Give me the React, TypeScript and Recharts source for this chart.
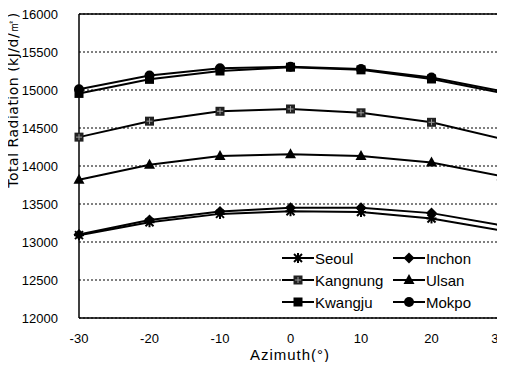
import { LineChart, Line, XAxis, YAxis, CartesianGrid, ReferenceLine, Legend } from 'recharts';

// azimuth angle (deg) on the x axis
const azimuth = [-30, -20, -10, 0, 10, 20, 30];

// total radiation, kJ/d/m2
const seoul = [13090, 13260, 13370, 13405, 13395, 13310, 13150];
const inchon = [13100, 13290, 13400, 13450, 13450, 13380, 13220];
const kangnung = [14380, 14590, 14720, 14750, 14700, 14575, 14355];
const ulsan = [13820, 14015, 14130, 14155, 14130, 14045, 13865];
const kwangju = [14955, 15140, 15250, 15300, 15265, 15145, 14960];
const mokpo = [15010, 15190, 15285, 15305, 15275, 15165, 14985];

const yTicks = [12000, 12500, 13000, 13500, 14000, 14500, 15000, 15500, 16000];

const series = [
  { key: 'seoul', name: 'Seoul', shape: 'star', values: seoul },
  { key: 'inchon', name: 'Inchon', shape: 'diamond', values: inchon },
  { key: 'kangnung', name: 'Kangnung', shape: 'hatch', values: kangnung },
  { key: 'ulsan', name: 'Ulsan', shape: 'triangle', values: ulsan },
  { key: 'kwangju', name: 'Kwangju', shape: 'square', values: kwangju },
  { key: 'mokpo', name: 'Mokpo', shape: 'circle', values: mokpo },
];

const data = azimuth.map((a, i) => {
  const row: any = { azimuth: a };
  series.forEach(s => { row[s.key] = s.values[i]; });
  return row;
});

const FONT = '"Liberation Sans", Arial, sans-serif';

function Marker({ shape, cx, cy }: { shape: string; cx: number; cy: number }) {
  if (cx == null || cy == null) return null;
  switch (shape) {
    case 'star':
      return (
        <g stroke="#000" strokeWidth={2}>
          <line x1={cx - 5} y1={cy} x2={cx + 5} y2={cy} />
          <line x1={cx} y1={cy - 5} x2={cx} y2={cy + 5} />
          <line x1={cx - 4} y1={cy - 4} x2={cx + 4} y2={cy + 4} />
          <line x1={cx - 4} y1={cy + 4} x2={cx + 4} y2={cy - 4} />
        </g>
      );
    case 'diamond':
      return <polygon points={`${cx},${cy - 5.5} ${cx + 5.5},${cy} ${cx},${cy + 5.5} ${cx - 5.5},${cy}`} fill="#000" />;
    case 'hatch':
      return (
        <g>
          <rect x={cx - 4.5} y={cy - 4.5} width={9} height={9} fill="#222" />
          <line x1={cx - 3} y1={cy} x2={cx + 3} y2={cy} stroke="#999" strokeWidth={1} />
          <line x1={cx} y1={cy - 3} x2={cx} y2={cy + 3} stroke="#999" strokeWidth={1} />
        </g>
      );
    case 'triangle':
      return <polygon points={`${cx},${cy - 6} ${cx + 5.5},${cy + 4} ${cx - 5.5},${cy + 4}`} fill="#000" />;
    case 'square':
      return <rect x={cx - 4.5} y={cy - 4.5} width={9} height={9} fill="#000" />;
    default:
      return <circle cx={cx} cy={cy} r={5} fill="#000" />;
  }
}

function LegendBox() {
  return (
    <div style={{ background: '#fff', width: 218, height: 70, display: 'grid', gridTemplateColumns: '111px 107px', gridAutoRows: '22px', paddingTop: 1, fontFamily: FONT, fontSize: 15, color: '#000', textAlign: 'left' }}>
      {series.map(s => (
        <div key={s.key} style={{ display: 'flex', alignItems: 'center', whiteSpace: 'nowrap' }}>
          <svg width={32} height={14} style={{ flex: 'none' }}>
            <line x1={0} y1={7} x2={32} y2={7} stroke="#000" strokeWidth={2} />
            <Marker shape={s.shape} cx={16} cy={7} />
          </svg>
          <span style={{ marginLeft: 1 }}>{s.name}</span>
        </div>
      ))}
    </div>
  );
}

const YLabel = () => (
  <text x={13} y={100} transform="rotate(-90 13 100)" textAnchor="middle" dominantBaseline="central"
    fontSize={14} letterSpacing={0.5} fill="#000" fontFamily='"DejaVu Sans", sans-serif'>
    Total Radiation (kJ/d/㎡)
  </text>
);

const XLabel = () => (
  <text x={290} y={354} textAnchor="middle" dominantBaseline="central"
    fontSize={15} letterSpacing={1} fill="#000" fontFamily={FONT}>
    Azimuth(°)
  </text>
);

export default function App() {
  return (
    <div style={{ margin: -8, width: 505, height: 370, background: '#fff', position: 'relative' }}>
      <LineChart width={505} height={370} data={data} margin={{ top: 14, right: 3, left: 19, bottom: 22 }}>
        <CartesianGrid vertical={false} stroke="#000" strokeDasharray="2 2" strokeWidth={1} />
        <XAxis
          dataKey="azimuth"
          type="number"
          domain={[-30, 30]}
          ticks={azimuth}
          height={30}
          axisLine={{ stroke: '#000', strokeWidth: 1.5 }}
          tickLine={false}
          tickMargin={10}
          tick={{ fontSize: 13, fill: '#000', fontFamily: FONT }}
          label={<XLabel />}
        />
        <YAxis
          domain={[12000, 16000]}
          ticks={yTicks}
          width={60}
          axisLine={{ stroke: '#000', strokeWidth: 1.5 }}
          tickLine={false}
          tickMargin={15}
          tick={{ fontSize: 13, fill: '#000', fontFamily: FONT }}
          label={<YLabel />}
        />
        <ReferenceLine y={16000} stroke="#000" strokeWidth={1.5} />
        <ReferenceLine x={30} stroke="#000" strokeWidth={1.5} />
        <Legend
          verticalAlign="middle"
          align="center"
          content={<LegendBox />}
          wrapperStyle={{ position: 'absolute', left: 282, top: 246, width: 218, height: 70 }}
        />
        {series.map(s => (
          <Line
            key={s.key}
            dataKey={s.key}
            name={s.name}
            type="linear"
            stroke="#000"
            strokeWidth={2}
            isAnimationActive={false}
            dot={(p: any) => <Marker key={`${s.key}-${p.index}`} shape={s.shape} cx={p.cx} cy={p.cy} />}
            activeDot={false}
          />
        ))}
      </LineChart>
    </div>
  );
}
